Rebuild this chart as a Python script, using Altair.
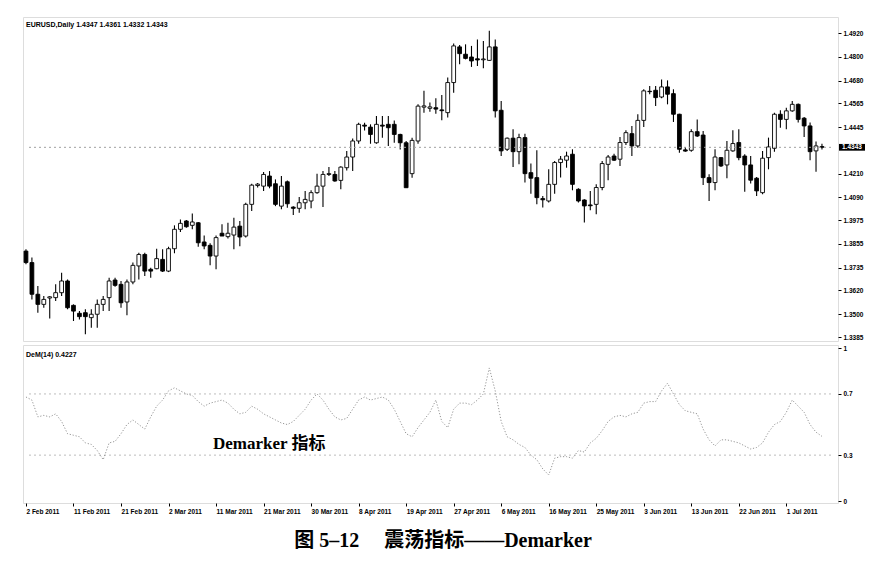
import json
import altair as alt
import pandas as pd

# ---- price data (EURUSD daily, one bar per trading day incl. Sunday bars) ----
opens = [1.3819, 1.3761, 1.3601, 1.3550, 1.3582, 1.3584, 1.3609, 1.3668, 1.3545, 1.3505,
         1.3508, 1.3483, 1.3500, 1.3550, 1.3584, 1.3673, 1.3651, 1.3562, 1.3663, 1.3744,
         1.3802, 1.3727, 1.3730, 1.3777, 1.3718, 1.3831, 1.3929, 1.3971, 1.3949, 1.3962,
         1.3865, 1.3848, 1.3794, 1.3909, 1.3892, 1.3900, 1.3945, 1.3895, 1.4055, 1.4150,
         1.4147, 1.4198, 1.4159, 1.4046, 1.4169, 1.4041, 1.4035, 1.4063, 1.4072, 1.4114,
         1.4147, 1.4206, 1.4206, 1.4176, 1.4240, 1.4294, 1.4375, 1.4455, 1.4445, 1.4366,
         1.4455, 1.4459, 1.4459, 1.4408, 1.4366, 1.4210, 1.4375, 1.4546, 1.4540, 1.4543,
         1.4532, 1.4518, 1.4670, 1.4850, 1.4813, 1.4799, 1.4790, 1.4785, 1.4782, 1.4850,
         1.4530, 1.4333, 1.4389, 1.4321, 1.4392, 1.4215, 1.4190, 1.4084, 1.4072, 1.4156,
         1.4266, 1.4278, 1.4308, 1.4131, 1.4077, 1.4052, 1.4055, 1.4140, 1.4257, 1.4299,
         1.4283, 1.4367, 1.4412, 1.4350, 1.4479, 1.4626, 1.4631, 1.4597, 1.4648, 1.4614,
         1.4510, 1.4330, 1.4328, 1.4422, 1.4405, 1.4190, 1.4165, 1.4291, 1.4254, 1.4325,
         1.4367, 1.4299, 1.4254, 1.4187, 1.4114, 1.4291, 1.4338, 1.4510, 1.4484, 1.4527,
         1.4560, 1.4490, 1.4451, 1.4325, 1.4347]
highs = [1.3828, 1.3786, 1.3643, 1.3592, 1.3592, 1.3651, 1.3710, 1.3676, 1.3550, 1.3516,
         1.3525, 1.3525, 1.3575, 1.3592, 1.3685, 1.3685, 1.3668, 1.3676, 1.3761, 1.3811,
         1.3811, 1.3735, 1.3831, 1.3828, 1.3841, 1.3949, 1.3979, 1.3976, 1.4009, 1.3966,
         1.3898, 1.3858, 1.3898, 1.3954, 1.3962, 1.3987, 1.3971, 1.4063, 1.4159, 1.4163,
         1.4218, 1.4223, 1.4181, 1.4198, 1.4176, 1.4046, 1.4092, 1.4122, 1.4126, 1.4210,
         1.4223, 1.4243, 1.4223, 1.4248, 1.4324, 1.4388, 1.4467, 1.4467, 1.4459, 1.4501,
         1.4501, 1.4501, 1.4479, 1.4412, 1.4375, 1.4391, 1.4560, 1.4628, 1.4569, 1.4591,
         1.4607, 1.4695, 1.4867, 1.4860, 1.4863, 1.4855, 1.4888, 1.4880, 1.4931, 1.4888,
         1.4577, 1.4392, 1.4434, 1.4412, 1.4412, 1.4261, 1.4328, 1.4097, 1.4232, 1.4274,
         1.4299, 1.4321, 1.4333, 1.4136, 1.4081, 1.4123, 1.4156, 1.4274, 1.4304, 1.4311,
         1.4395, 1.4429, 1.4451, 1.4510, 1.4636, 1.4653, 1.4653, 1.4686, 1.4681, 1.4636,
         1.4513, 1.4345, 1.4434, 1.4484, 1.4426, 1.4207, 1.4333, 1.4294, 1.4375, 1.4429,
         1.4434, 1.4308, 1.4299, 1.4193, 1.4325, 1.4392, 1.4518, 1.4530, 1.4543, 1.4577,
         1.4564, 1.4496, 1.4468, 1.4372, 1.4361]
lows = [1.3752, 1.3575, 1.3508, 1.3533, 1.3478, 1.3567, 1.3592, 1.3525, 1.3466, 1.3474,
        1.3399, 1.3432, 1.3432, 1.3516, 1.3516, 1.3639, 1.3533, 1.3495, 1.3651, 1.3676,
        1.3693, 1.3685, 1.3727, 1.3713, 1.3713, 1.3808, 1.3915, 1.3937, 1.3929, 1.3841,
        1.3828, 1.3747, 1.3727, 1.3895, 1.3882, 1.3828, 1.3844, 1.3887, 1.4021, 1.4140,
        1.4122, 1.4136, 1.4046, 1.4030, 1.4038, 1.4001, 1.4013, 1.4030, 1.4035, 1.4109,
        1.4041, 1.4198, 1.4169, 1.4131, 1.4226, 1.4223, 1.4361, 1.4428, 1.4361, 1.4361,
        1.4391, 1.4349, 1.4366, 1.4332, 1.4139, 1.4189, 1.4361, 1.4518, 1.4523, 1.4513,
        1.4480, 1.4493, 1.4619, 1.4762, 1.4787, 1.4749, 1.4754, 1.4742, 1.4779, 1.4493,
        1.4299, 1.4325, 1.4244, 1.4257, 1.4165, 1.4109, 1.4055, 1.4039, 1.4064, 1.4109,
        1.4190, 1.4240, 1.4126, 1.4064, 1.3963, 1.4025, 1.4005, 1.4126, 1.4177, 1.4274,
        1.4249, 1.4355, 1.4299, 1.4341, 1.4446, 1.4611, 1.4552, 1.4591, 1.4560, 1.4471,
        1.4316, 1.4321, 1.4321, 1.4395, 1.4153, 1.4072, 1.4126, 1.4244, 1.4187, 1.4321,
        1.4278, 1.4119, 1.4160, 1.4097, 1.4106, 1.4232, 1.4321, 1.4442, 1.4434, 1.4523,
        1.4468, 1.4395, 1.4278, 1.4220, 1.4332]
closes = [1.3761, 1.3601, 1.3550, 1.3575, 1.3588, 1.3609, 1.3668, 1.3533, 1.3516, 1.3488,
          1.3488, 1.3500, 1.3550, 1.3575, 1.3668, 1.3646, 1.3558, 1.3663, 1.3747, 1.3802,
          1.3718, 1.3718, 1.3781, 1.3718, 1.3831, 1.3929, 1.3959, 1.3942, 1.3966, 1.3861,
          1.3845, 1.3794, 1.3887, 1.3895, 1.3909, 1.3940, 1.3890, 1.4055, 1.4152, 1.4157,
          1.4206, 1.4147, 1.4055, 1.4147, 1.4058, 1.4035, 1.4063, 1.4080, 1.4114, 1.4147,
          1.4206, 1.4210, 1.4173, 1.4243, 1.4294, 1.4375, 1.4459, 1.4450, 1.4408, 1.4459,
          1.4450, 1.4442, 1.4408, 1.4366, 1.4139, 1.4378, 1.4551, 1.4552, 1.4547, 1.4536,
          1.4528, 1.4670, 1.4855, 1.4816, 1.4792, 1.4779, 1.4784, 1.4789, 1.4850, 1.4527,
          1.4325, 1.4389, 1.4321, 1.4392, 1.4210, 1.4187, 1.4089, 1.4078, 1.4156, 1.4266,
          1.4283, 1.4299, 1.4156, 1.4072, 1.4047, 1.4048, 1.4140, 1.4261, 1.4294, 1.4278,
          1.4367, 1.4417, 1.4350, 1.4479, 1.4628, 1.4624, 1.4594, 1.4648, 1.4611, 1.4510,
          1.4333, 1.4324, 1.4422, 1.4400, 1.4190, 1.4165, 1.4294, 1.4249, 1.4328, 1.4362,
          1.4291, 1.4254, 1.4177, 1.4123, 1.4288, 1.4345, 1.4510, 1.4484, 1.4527, 1.4560,
          1.4484, 1.4451, 1.4321, 1.4350, 1.4343]
# ---- DeMarker(14) readings ----
dem = [0.68, 0.66, 0.55, 0.56, 0.55, 0.57, 0.52, 0.44, 0.43, 0.42,
       0.38, 0.37, 0.33, 0.27, 0.38, 0.39, 0.44, 0.50, 0.53, 0.50,
       0.47, 0.55, 0.62, 0.66, 0.72, 0.74, 0.72, 0.70, 0.69, 0.65,
       0.62, 0.64, 0.65, 0.66, 0.64, 0.60, 0.57, 0.58, 0.62, 0.60,
       0.57, 0.55, 0.53, 0.51, 0.50, 0.52, 0.56, 0.60, 0.66, 0.70,
       0.66, 0.60, 0.55, 0.53, 0.54, 0.60, 0.66, 0.68, 0.66, 0.67,
       0.68, 0.66, 0.60, 0.52, 0.44, 0.42, 0.48, 0.53, 0.58, 0.66,
       0.52, 0.48, 0.60, 0.64, 0.64, 0.63, 0.66, 0.70, 0.87, 0.72,
       0.52, 0.42, 0.40, 0.37, 0.35, 0.30, 0.27, 0.21, 0.17, 0.28,
       0.29, 0.29, 0.28, 0.33, 0.32, 0.38, 0.41, 0.46, 0.52, 0.55,
       0.56, 0.55, 0.57, 0.58, 0.64, 0.65, 0.65, 0.72, 0.77, 0.70,
       0.63, 0.59, 0.58, 0.57, 0.47, 0.40, 0.36, 0.40, 0.40, 0.39,
       0.38, 0.36, 0.34, 0.35, 0.38, 0.45, 0.50, 0.52, 0.58, 0.66,
       0.62, 0.58, 0.50, 0.45, 0.4227]

date_labels = ["2 Feb 2011", "11 Feb 2011", "21 Feb 2011", "2 Mar 2011", "11 Mar 2011",
               "21 Mar 2011", "30 Mar 2011", "8 Apr 2011", "19 Apr 2011", "27 Apr 2011",
               "6 May 2011", "16 May 2011", "25 May 2011", "3 Jun 2011", "13 Jun 2011",
               "22 Jun 2011", "1 Jul 2011"]
label_step = 8
price_ticks = [1.3385, 1.3500, 1.3620, 1.3735, 1.3855, 1.3975, 1.4090, 1.4210,
               1.4445, 1.4565, 1.4680, 1.4800, 1.4920]
dem_ticks = [0, 0.3, 0.7, 1]
dem_levels = [0.3, 0.7]
last_price = 1.4343
info_text = "EURUSD,Daily  1.4347 1.4361 1.4332 1.4343"
dem_text = "DeM(14) 0.4227"
annot_text = "Demarker 指标"
caption_text = "图 5–12\u3000 震荡指标——Demarker"

n = len(opens)
df = pd.DataFrame({"i": list(range(n)), "open": opens, "high": highs,
                   "low": lows, "close": closes, "dem": dem})

W = 815
H_TOP = 324
H_BOT = 158
LABEL_FONT = "Liberation Sans"

xscale = alt.Scale(domain=[-0.5, 136.7], nice=False, zero=False, padding=0)
yscale = alt.Scale(domain=[1.3365, 1.5001], nice=False, zero=False)

price_axis = alt.Axis(orient="right", values=price_ticks, format=".4f", title=None,
                      grid=False, tickSize=3, labelPadding=2, domain=False,
                      labelOverlap=False, labelFlush=False,
                      labelFontSize=6.5, labelFont=LABEL_FONT, labelFontWeight="bold",
                      labelColor="#000", tickColor="#000")

base = alt.Chart(df)

wicks = base.mark_rule(color="#000", strokeWidth=1.1).encode(
    x=alt.X("i:Q", scale=xscale, axis=None),
    y=alt.Y("low:Q", scale=yscale, axis=price_axis),
    y2="high:Q",
)
bodies = base.mark_bar(size=3.8, stroke="#000", strokeWidth=0.9).encode(
    x=alt.X("i:Q", scale=xscale, axis=None),
    y=alt.Y("open:Q", scale=yscale, axis=price_axis),
    y2="close:Q",
    fill=alt.condition("datum.close >= datum.open", alt.value("#ffffff"), alt.value("#000000")),
)

one = pd.DataFrame({"p": [last_price]})
bid_line = alt.Chart(one).mark_rule(color="#a0a0a0", strokeWidth=1, strokeDash=[2, 3]).encode(
    y=alt.Y("p:Q", scale=yscale, axis=price_axis), x=alt.value(6), x2=alt.value(W - 4)
)
bid_box = alt.Chart(one).mark_rect(color="#000").encode(
    y=alt.Y(datum=last_price + 0.0017, type="quantitative", scale=yscale, axis=price_axis),
    y2=alt.Y2(datum=last_price - 0.0017),
    x=alt.value(W + 1), x2=alt.value(W + 27),
)
bid_text = alt.Chart(one).mark_text(color="#fff", fontSize=6.5, font=LABEL_FONT,
                                    fontWeight="bold", align="left", baseline="middle").encode(
    y=alt.Y("p:Q", scale=yscale, axis=price_axis), x=alt.value(W + 4),
    text=alt.Text("p:Q", format=".4f")
)
info = alt.Chart(one).mark_text(text=info_text, fontSize=7, font=LABEL_FONT, fontWeight="bold",
                                align="left", baseline="top", color="#000").encode(
    x=alt.value(3), y=alt.value(4)
)

top = alt.layer(wicks, bodies, bid_line, bid_box, bid_text, info).properties(
    width=W, height=H_TOP)

# ---- DeMarker panel ----
dscale = alt.Scale(domain=[-0.013, 1.02], nice=False, zero=False)
labels_js = json.dumps(date_labels)
x_axis = alt.Axis(values=list(range(0, label_step * len(date_labels), label_step)),
                  labelExpr=f"{labels_js}[round(datum.value/{label_step})]",
                  tickSize=3, labelAlign="left", labelPadding=2, domain=False, grid=False,
                  title=None, labelFontSize=6.5, labelFont=LABEL_FONT, labelFontWeight="bold",
                  labelColor="#000", tickColor="#000", labelOverlap=False, labelFlush=False)
dem_axis = alt.Axis(orient="right", values=dem_ticks, format="~g", title=None, grid=False,
                    tickSize=3, labelPadding=2, domain=False, labelFontSize=6.5,
                    labelOverlap=False, labelFlush=False,
                    labelFont=LABEL_FONT, labelFontWeight="bold", labelColor="#000",
                    tickColor="#000")

dbase = alt.Chart(df)
dem_line = dbase.mark_line(color="#8a8a8a", strokeWidth=0.9, strokeDash=[1.2, 1.8]).encode(
    x=alt.X("i:Q", scale=xscale, axis=x_axis),
    y=alt.Y("dem:Q", scale=dscale, axis=dem_axis),
)
lv = pd.DataFrame({"lv": dem_levels})
levels = alt.Chart(lv).mark_rule(color="#bdbdbd", strokeWidth=1, strokeDash=[2, 3]).encode(
    y=alt.Y("lv:Q", scale=dscale, axis=dem_axis), x=alt.value(6), x2=alt.value(W - 4)
)
dem_label = alt.Chart(one).mark_text(text=dem_text, fontSize=7, font=LABEL_FONT,
                                     fontWeight="bold", align="left", baseline="top",
                                     color="#000").encode(x=alt.value(3), y=alt.value(6))
annot = alt.Chart(one).mark_text(text=annot_text, fontSize=17,
                                 font="Liberation Serif, Noto Sans CJK SC", fontWeight="bold",
                                 align="left", baseline="middle", color="#000").encode(
    x=alt.value(190), y=alt.value(99))
caption = alt.Chart(one).mark_text(text=caption_text, fontSize=20,
                                   font="Liberation Serif, Noto Sans CJK SC", fontWeight="bold",
                                   align="center", baseline="middle", color="#000").encode(
    x=alt.value(420), y=alt.value(196))

bottom = alt.layer(levels, dem_line, dem_label, annot, caption).properties(
    width=W, height=H_BOT)

chart = alt.vconcat(top, bottom, spacing=2).properties(
    padding={"left": 14, "top": 8, "right": 5, "bottom": 5}
).configure_view(stroke="#000", strokeWidth=1.5).configure_axis(
    labelOverlap=False
).configure(background="#ffffff")

chart.save("out.html", embed_options={"renderer": "svg", "actions": False})
